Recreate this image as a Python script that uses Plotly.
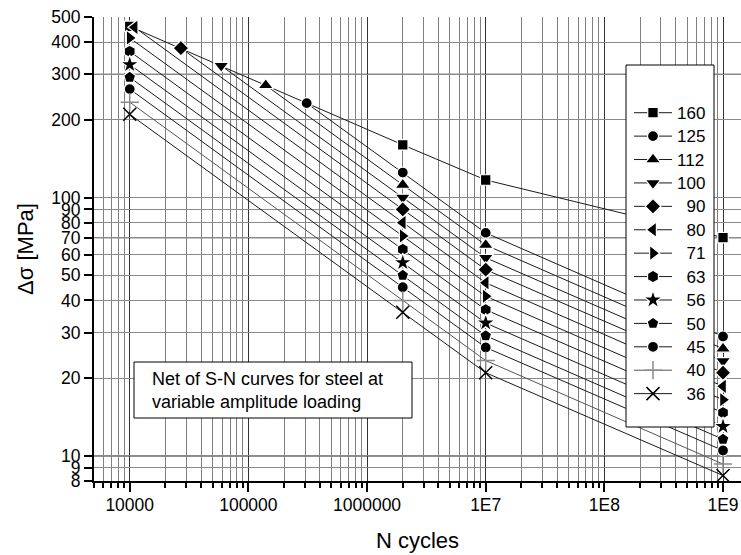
import math
import plotly.graph_objects as go

# ---- data ----
categories = ["160", "125", "112", "100", "90", "80", "71", "63", "56", "50", "45", "40", "36"]
symbols = ["square", "circle", "triangle-up", "triangle-down", "diamond", "triangle-left",
           "triangle-right", "hexagon", "star", "pentagon", "circle", "cross-thin-open", "x-thin-open"]

n_160 = [1e4, 2e6, 1e7, 1e9]
s_160 = [460, 160, 117, 70]
n_125 = [3.1e5, 2e6, 1e7, 1e9]
s_125 = [232, 125, 73, 29]
n_112 = [1.4e5, 2e6, 1e7, 1e9]
s_112 = [272, 112, 65.5, 26]
n_100 = [5.9e4, 2e6, 1e7, 1e9]
s_100 = [324, 100, 58.5, 23.3]
n_90 = [2.7e4, 2e6, 1e7, 1e9]
s_90 = [379, 90, 52.6, 21]
n_80 = [1.1e4, 2e6, 1e7, 1e9]
s_80 = [456, 80, 46.8, 18.6]
n_71 = [1e4, 2e6, 1e7, 1e9]
s_71 = [415, 71, 41.5, 16.5]
n_63 = [1e4, 2e6, 1e7, 1e9]
s_63 = [368, 63, 36.8, 14.7]
n_56 = [1e4, 2e6, 1e7, 1e9]
s_56 = [327, 56, 32.7, 13]
n_50 = [1e4, 2e6, 1e7, 1e9]
s_50 = [292, 50, 29.2, 11.6]
n_45 = [1e4, 2e6, 1e7, 1e9]
s_45 = [263, 45, 26.3, 10.5]
n_40 = [1e4, 2e6, 1e7, 1e9]
s_40 = [234, 40, 23.4, 9.3]
n_36 = [1e4, 2e6, 1e7, 1e9]
s_36 = [210, 36, 21, 8.4]

x_tickvals = [1e4, 1e5, 1e6, 1e7, 1e8, 1e9]
x_ticktext = ["10000", "100000", "1000000", "1E7", "1E8", "1E9"]
y_tickvals = [8, 9, 10, 20, 30, 40, 50, 60, 70, 80, 90, 100, 200, 300, 400, 500]
y_ticktext = ["8", "9", "10", "20", "30", "40", "50", "60", "70", "80", "90", "100", "200", "300", "400", "500"]
y_dark_grid = [10, 70, 300]

series_n = [n_160, n_125, n_112, n_100, n_90, n_80, n_71, n_63, n_56, n_50, n_45, n_40, n_36]
series_s = [s_160, s_125, s_112, s_100, s_90, s_80, s_71, s_63, s_56, s_50, s_45, s_40, s_36]

marker_sizes = {"square": 10.5, "circle": 11, "triangle-up": 13.5, "triangle-down": 13.5,
                "diamond": 12, "triangle-left": 13.5, "triangle-right": 13.5, "hexagon": 12.5,
                "star": 14, "pentagon": 12.5, "cross-thin-open": 13, "x-thin-open": 13}

FONT = "Liberation Sans, Arial, sans-serif"

fig = go.Figure()
for cat, sym, xs, ys in zip(categories, symbols, series_n, series_s):
    gray = cat == "40"
    line_col = "#555555" if gray else "#1a1a1a"
    size = marker_sizes[sym]
    if sym.endswith("thin-open"):
        marker = dict(symbol=sym, size=size, color="#8a8a8a" if gray else "black",
                      line=dict(width=1.5, color="#8a8a8a" if gray else "black"))
    else:
        marker = dict(symbol=sym, size=size, color="black",
                      line=dict(width=1.2, color="white"))
    label = cat if len(cat) == 3 else "\u2007" + cat
    fig.add_trace(go.Scatter(
        x=xs, y=ys, mode="lines+markers",
        name="<span style='font-size:17px'>" + label + "</span>",
        line=dict(color=line_col, width=1), marker=marker, cliponaxis=False,
    ))

minor_x = [m * 10 ** d for d in range(3, 10) for m in range(2, 10) if 5000 <= m * 10 ** d <= 1e9]

L, R, T, B = 94, 0, 17, 74
W, H = 741, 555
pw, ph = W - L - R, H - T - B

def px(x):
    return (x - L) / pw

def py(y):
    return (H - B - y) / ph

x_lo = math.log10(5000)
x_hi = 9 + (W - R - 723) / 118.8

shapes = [
    dict(type="line", xref="paper", x0=0, x1=1, yref="y", y0=v, y1=v,
         line=dict(color="#222222", width=1.2), layer="between")
    for v in y_dark_grid
]
shapes += [
    dict(type="rect", xref="paper", yref="paper",
         x0=px(626), x1=px(714), y0=py(427), y1=py(65),
         fillcolor="white", line=dict(color="black", width=1), layer="above"),
    dict(type="rect", xref="paper", yref="paper",
         x0=px(134), x1=px(412), y0=py(418), y1=py(362),
         fillcolor="white", line=dict(color="black", width=1), layer="above"),
]

fig.update_layout(
    width=W, height=H,
    margin=dict(l=L, r=R, t=T, b=B),
    paper_bgcolor="white", plot_bgcolor="white",
    font=dict(family=FONT, color="black", size=17),
    showlegend=True,
    legend=dict(x=px(629), y=py(96), xanchor="left", yanchor="top",
                bgcolor="rgba(0,0,0,0)", borderwidth=0,
                font=dict(family=FONT, size=15.7, color="black"),
                itemwidth=38, tracegroupgap=0),
    xaxis=dict(
        type="log", range=[x_lo, x_hi],
        tickmode="array", tickvals=x_tickvals, ticktext=x_ticktext,
        ticks="outside", ticklen=9, tickwidth=2, tickcolor="black",
        tickfont=dict(family=FONT, size=17.5, color="black"),
        ticklabelstandoff=-2,
        showline=True, linecolor="black", linewidth=2,
        showgrid=True, gridcolor="#333333", gridwidth=1,
        minor=dict(tickvals=minor_x, ticks="outside", ticklen=5, tickwidth=1.5,
                   tickcolor="black", showgrid=True, gridcolor="#808080", gridwidth=1),
        zeroline=False,
        title=dict(text="N cycles", font=dict(family=FONT, size=22, color="black"), standoff=19),
    ),
    yaxis=dict(
        type="log", range=[math.log10(8), math.log10(500)],
        tickmode="array", tickvals=y_tickvals, ticktext=y_ticktext,
        ticks="outside", ticklen=8, tickwidth=1.5, tickcolor="black",
        tickfont=dict(family=FONT, size=17.5, color="black"),
        showline=True, linecolor="black", linewidth=2,
        showgrid=True, gridcolor="#8a8a8a", gridwidth=1,
        zeroline=False,
        title=dict(text="Δσ [MPa]", font=dict(family=FONT, size=22, color="black"), standoff=12),
    ),
    shapes=shapes,
    annotations=[
        dict(text="Net of S-N curves for steel at<br>variable amplitude loading",
             xref="paper", yref="paper", x=px(150), y=py(390),
             xanchor="left", yanchor="middle", align="left", showarrow=False,
             font=dict(family=FONT, size=18, color="black")),
    ],
)

fig.write_html("out.html", config={"displayModeBar": False},
               post_script="document.body.style.margin='0px';")
